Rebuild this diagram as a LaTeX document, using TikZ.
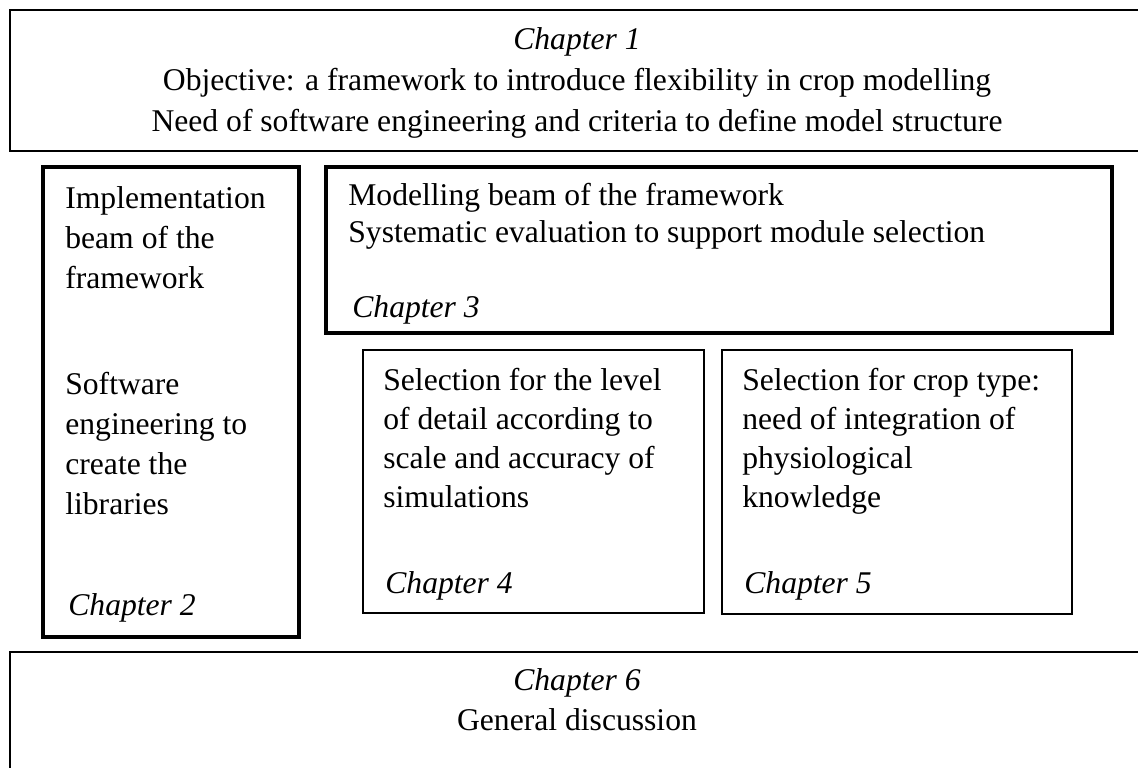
\documentclass[tikz,border=0pt]{standalone}
\usepackage{fontspec}
\setmainfont{Liberation Serif}
\usetikzlibrary{positioning}

\begin{document}
\begin{tikzpicture}[x=0.02cm, y=-0.02cm,
  thinbox/.style={draw, line width=1pt},
  thickbox/.style={draw, line width=2.4pt},
  txt/.style={inner sep=0pt, anchor=base west, font=\fontsize{18}{22.5}\selectfont},
  ctxt/.style={txt, anchor=base},
  chap/.style={font=\fontsize{18}{22.5}\selectfont\itshape}]
\useasboundingbox (0,0) rectangle (1138,767);

% Chapter 1
\draw[thinbox] (10,10) rectangle (1150,151);
\node[ctxt, chap] (c1) at (577,50) {Chapter 1};
\node[ctxt] (obj) at (577,91) {Objective: a framework to introduce flexibility in crop modelling};
\node[ctxt] (need) at (577,132) {Need of software engineering and criteria to define model structure};

% Chapter 2
\draw[thickbox] (43,167) rectangle (299,637);
\node[txt] (impl1) at (65,208) {Implementation};
\node[txt] (impl2) at (65,248) {beam of the};
\node[txt] (impl3) at (65,288) {framework};
\node[txt] (soft1) at (65,394) {Software};
\node[txt] (soft2) at (65,434) {engineering to};
\node[txt] (soft3) at (65,474) {create the};
\node[txt] (soft4) at (65,514) {libraries};
\node[txt, chap] (c2) at (68,615) {Chapter 2};

% Chapter 3
\draw[thickbox] (326,167) rectangle (1112,333);
\node[txt] (model1) at (348,205) {Modelling beam of the framework};
\node[txt] (model2) at (348,242) {Systematic evaluation to support module selection};
\node[txt, chap] (c3) at (352,317) {Chapter 3};

% Chapter 4
\draw[thinbox] (363,350) rectangle (704,613);
\node[txt] (det1) at (383,390) {Selection for the level};
\node[txt] (det2) at (383,429) {of detail according to};
\node[txt] (det3) at (383,468) {scale and accuracy of};
\node[txt] (det4) at (383,507) {simulations};
\node[txt, chap] (c4) at (385,593) {Chapter 4};

% Chapter 5
\draw[thinbox] (722,350) rectangle (1072,614);
\node[txt] (crop1) at (742,390) {Selection for crop type:};
\node[txt] (crop2) at (742,429) {need of integration of};
\node[txt] (crop3) at (742,468) {physiological};
\node[txt] (crop4) at (742,507) {knowledge};
\node[txt, chap] (c5) at (744,593) {Chapter 5};

% Chapter 6
\draw[thinbox] (10,652) rectangle (1150,800);
\node[ctxt, chap] (c6) at (577,690) {Chapter 6};
\node[ctxt] (disc) at (577,730) {General discussion};
\end{tikzpicture}
\end{document}
